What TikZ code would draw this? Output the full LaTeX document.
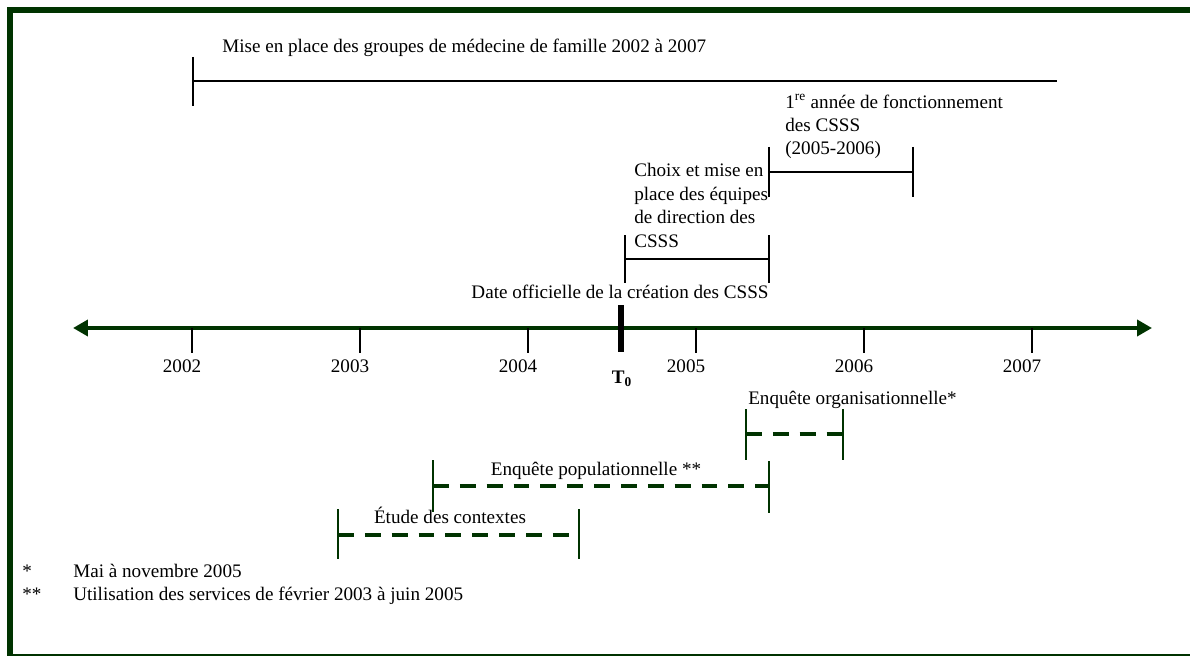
\documentclass[tikz,border=0pt]{standalone}
\usepackage{fontspec}
\setmainfont{Liberation Serif}
\usepackage{tikz}
\usetikzlibrary{arrows.meta}
\definecolor{frisegreen}{RGB}{0,51,0}

\begin{document}
\begin{tikzpicture}[x=0.025cm,y=-0.025cm,
  >={Triangle[length=10.6pt,width=11.3pt]},
  lbl/.style={font=\fontsize{13.6}{16.7}\selectfont,inner sep=0pt,align=left},
  span/.style={line width=1.4pt,black},
  axisline/.style={<->,line width=2.8pt,frisegreen},
  yeartick/.style={line width=1.4pt,black},
  survey/.style={line width=2.8pt,frisegreen,dash pattern=on 11.3pt off 7.8pt},
  surveytick/.style={line width=1.4pt,frisegreen}
]
\useasboundingbox (0,0) rectangle (1190,656);
\draw[frisegreen,line width=4.3pt] (10,10) rectangle (1215,657);

% TOP: periods above the time line
\node[lbl,anchor=base west] (gmf) at (222,53) {Mise en place des groupes de médecine de famille 2002 à 2007};
\coordinate (gmfL) at (193,81);
\coordinate (gmfR) at (1057,81);
\draw[span] (193,57) -- (193,106);
\draw[span] (gmfL) -- (gmfR);

\node[lbl,anchor=base west] (annee) at (785,155) {1\textsuperscript{re} année de fonctionnement\\des CSSS\\(2005-2006)};
\coordinate (anneeL) at (769,172);
\coordinate (anneeR) at (913,172);
\draw[span] (769,147) -- (769,197);
\draw[span] (913,147) -- (913,197);
\draw[span] (anneeL) -- (anneeR);

\node[lbl,anchor=base west] (choix) at (634,247) {Choix et mise en\\place des équipes\\de direction des\\CSSS};
\coordinate (choixL) at (625,259);
\coordinate (choixR) at (769,259);
\draw[span] (625,235) -- (625,283);
\draw[span] (769,235) -- (769,283);
\draw[span] (choixL) -- (choixR);

\node[lbl,anchor=base] (officiel) at (620,298) {Date officielle de la création des CSSS};

% MIDDLE: time line
\coordinate (axL) at (73,328);
\coordinate (axR) at (1152,328);
\draw[axisline] (axL) -- (axR);
\foreach \yr [count=\i from 0] in {2002,2003,2004,2005,2006,2007} {
  \draw[yeartick] (192+168*\i,328) -- (192+168*\i,353);
  \node[lbl,anchor=base] (y\yr) at (182+168*\i,372) {\yr};
}
\draw[line width=4.3pt] (621,305) -- (621,352);
\node[lbl,anchor=base] (tzero) at (622,383) {\textbf{T\textsubscript{0}}};

% BOTTOM: data collection
\node[lbl,anchor=base west] (org) at (748,404) {Enquête organisationnelle*};
\coordinate (orgL) at (746,434);
\coordinate (orgR) at (843,434);
\draw[surveytick] (746,409) -- (746,460);
\draw[surveytick] (843,409) -- (843,460);
\draw[survey] (orgL) -- (orgR);

\node[lbl,anchor=base] (pop) at (596,475) {Enquête populationnelle **};
\coordinate (popL) at (433,486);
\coordinate (popR) at (769,486);
\draw[surveytick] (433,460) -- (433,512);
\draw[surveytick] (769,461) -- (769,513);
\draw[survey] (popL) -- (popR);

\node[lbl,anchor=base] (ctx) at (450,523) {Étude des contextes};
\coordinate (ctxL) at (338,535);
\coordinate (ctxR) at (579,535);
\draw[surveytick] (338,509) -- (338,559);
\draw[surveytick] (579,509) -- (579,559);
\draw[survey] (ctxL) -- (ctxR);

% notes
\node[lbl,anchor=base west] (star1) at (22,577) {*};
\node[lbl,anchor=base west] (note1) at (73,577) {Mai à novembre 2005};
\node[lbl,anchor=base west] (star2) at (22,600) {**};
\node[lbl,anchor=base west] (note2) at (73,600) {Utilisation des services de février 2003 à juin 2005};
\end{tikzpicture}
\end{document}
